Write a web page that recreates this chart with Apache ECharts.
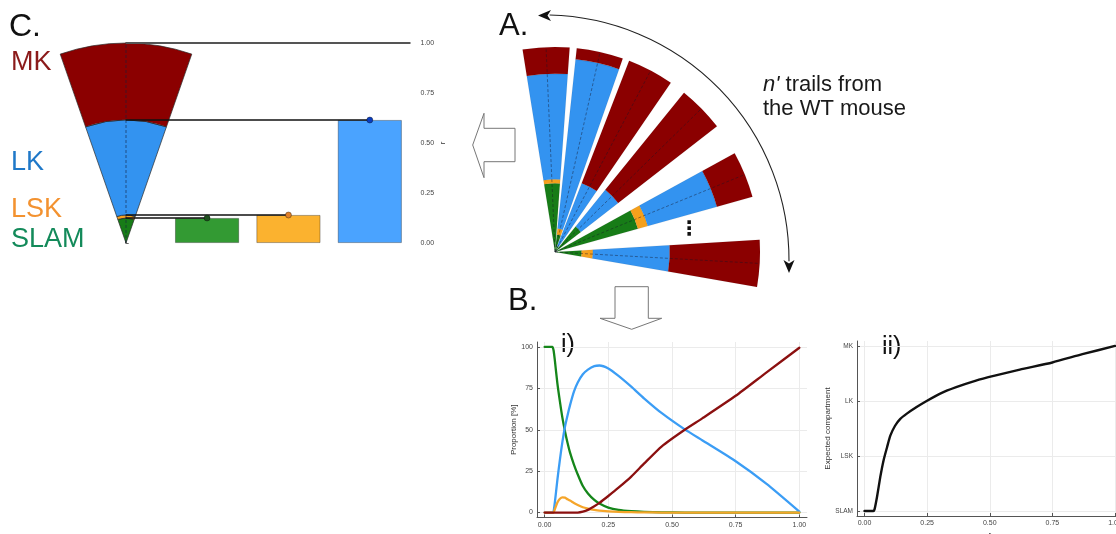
<!DOCTYPE html>
<html><head><meta charset="utf-8">
<script src="https://cdn.jsdelivr.net/npm/echarts@6/dist/echarts.min.js"></script>
<style>html,body{margin:0;padding:0;background:#fff}#c{width:1116px;height:534px}</style>
</head><body><div id="c"></div>
<script>
// ================= DATA =================
const COMPARTMENTS = ['SLAM', 'LSK', 'LK', 'MK'];
// Panel C: mean r reached by each compartment (upper boundary), MK reaches 1
const C_VALUES = [0.125, 0.14, 0.615];
const C_TOP = 1.0;
// Panel A: compartment boundaries of each trail (SLAM|LSK, LSK|LK, LK|MK), fraction of trail length
const TRAIL_1 = [0.335, 0.355, 0.87];
const TRAIL_2 = [0.085, 0.115, 0.945];
const TRAIL_3 = [0.03, 0.03, 0.36];
const TRAIL_4 = [0.16, 0.16, 0.39];
const TRAIL_5 = [0.42, 0.47, 0.82];
const TRAIL_6 = [0.13, 0.185, 0.56];
// Panel B i): proportions [%] along r
const R_I      = [0, 0.03, 0.035, 0.04, 0.05, 0.06, 0.07, 0.08, 0.09, 0.10, 0.115, 0.13, 0.15, 0.17, 0.195, 0.215, 0.25, 0.29, 0.34, 0.39, 0.46, 0.55, 0.62, 0.75, 0.87, 1.0];
const SLAM_PCT = [100, 100, 98, 92, 78, 67, 57, 49, 42, 36, 29, 23, 16, 11.5, 7.6, 5.5, 3, 1.6, 0.8, 0.4, 0.15, 0, 0, 0, 0, 0];
const LSK_PCT  = [0, 0, 0, 2, 6, 8.3, 9.2, 9, 8, 7.2, 5.8, 4.6, 3.2, 2.4, 1.6, 1.1, 0.7, 0.4, 0.2, 0.1, 0, 0, 0, 0, 0, 0];
const LK_PCT   = [0, 0, 0.5, 6, 19.7, 32, 43, 52, 58.8, 65, 73, 78.5, 83.5, 86.3, 88.4, 88.8, 87, 82.5, 76, 69, 60, 50.2, 43.5, 31, 17.5, 0.6];
const MK_PCT   = [0, 0, 0, 0, 0, 0, 0, 0, 0, 0, 0, 0, 0.5, 1.6, 3.8, 5.8, 10, 15, 21.7, 29.5, 40, 50, 57, 70.5, 84.5, 99.5];
const PCT_TICKS = [0, 25, 50, 75, 100];
const R_TICKS = [0, 0.25, 0.5, 0.75, 1.0];
// Panel B ii): expected compartment (0=SLAM ... 3=MK)
const R_II     = [0, 0.035, 0.04, 0.05, 0.063, 0.076, 0.09, 0.103, 0.122, 0.142, 0.169, 0.208, 0.248, 0.30, 0.366, 0.445, 0.52, 0.62, 0.75, 0.87, 1.0];
const EXPECTED = [0, 0, 0.03, 0.26, 0.62, 0.92, 1.16, 1.37, 1.55, 1.67, 1.77, 1.89, 2.0, 2.13, 2.25, 2.37, 2.46, 2.57, 2.70, 2.85, 3.0];
const LEVEL_TICKS = [0, 1, 2, 3];

// ================= LAYOUT / STYLE =================
const TRAILS = [TRAIL_1, TRAIL_2, TRAIL_3, TRAIL_4, TRAIL_5, TRAIL_6];
const TRAIL_ANGLES = [92.5, 77.3, 62.2, 44.4, 22.2, -3.2];
const TRAIL_HALF = 6.6;
const C_HALF = 19.2;
const WEDGE_COL = ['#177c17', '#f5a01c', '#3393f0', '#8b0000'];
const BAR_COL = ['#339a33', '#fbb22f', '#4aa3ff'];
const DOT_COL = ['#1f4f1f', '#e0802a', '#0a3dbf'];
const LINE_COL = ['#15861a', '#f5a52a', '#3b9df5', '#8b1010'];
const FONT = '"Liberation Sans", Arial, sans-serif';

function segs(bounds, angle) {
  const b = [0].concat(bounds, [1]);
  const out = [];
  for (let i = 0; i < 4; i++) if (b[i + 1] > b[i]) out.push([angle, b[i], b[i + 1], i]);
  return out;
}
const A_DATA = [];
TRAILS.forEach((t, k) => segs(t, TRAIL_ANGLES[k]).forEach(s => A_DATA.push(s)));
const C_DATA = segs(C_VALUES, 90);

function sectorRender(half, stroke, lw) {
  return function (params, api) {
    const a = api.value(0), r0 = api.value(1), r1 = api.value(2), ci = api.value(3);
    const cs = params.coordSys, cx = cs.cx, cy = cs.cy;
    const pO = api.coord([r1, a]), pI = api.coord([r0, a]);
    const rO = Math.hypot(pO[0] - cx, pO[1] - cy), rI = Math.hypot(pI[0] - cx, pI[1] - cy);
    const pS = api.coord([1, a + half]), pE = api.coord([1, a - half]);
    const sa = Math.atan2(pS[1] - cy, pS[0] - cx), ea = Math.atan2(pE[1] - cy, pE[0] - cx);
    return {
      type: 'sector',
      shape: { cx: cx, cy: cy, r0: rI, r: rO, startAngle: sa, endAngle: ea, clockwise: true },
      style: { fill: WEDGE_COL[ci], stroke: stroke, lineWidth: lw }
    };
  };
}
function axisLineRender(col, dash) {
  return function (params, api) {
    const a = api.value(0);
    const cs = params.coordSys;
    const p = api.coord([1, a]);
    return { type: 'line', shape: { x1: cs.cx, y1: cs.cy, x2: p[0], y2: p[1] },
      style: { stroke: col, lineWidth: 0.8, lineDash: dash } };
  };
}
function pairs(xs, ys) { return xs.map((x, i) => [x, ys[i]]); }

function gridSeries(xi, xs, ys) {
  return { type: 'line', xAxisIndex: xi, yAxisIndex: xi, data: [], z: 0, silent: true,
    markLine: { silent: true, z: 0, symbol: 'none', label: { show: false }, animation: false,
      lineStyle: { color: '#ebebeb', width: 1, type: 'solid' },
      data: xs.map(v => ({ xAxis: v })).concat(ys.map(v => ({ yAxis: v }))) } };
}
function curve(xi, xs, ys, col, w) {
  return { type: 'line', xAxisIndex: xi, yAxisIndex: xi, data: pairs(xs, ys), symbol: 'none', smooth: 0.2,
    lineStyle: { color: col, width: w, cap: 'round', join: 'round' }, z: 6, silent: true };
}

function bAxis(gi, extra, ticks) {
  return Object.assign({
    gridIndex: gi, type: 'value',
    nameLocation: 'middle', nameRotate: 0,
    nameTextStyle: { fontSize: 8, color: '#333', fontFamily: FONT },
    axisLine: { show: true, onZero: false, lineStyle: { color: '#555', width: 1 } },
    axisTick: { show: true, inside: true, length: 3, customValues: ticks, lineStyle: { color: '#555' } },
    splitLine: { show: false }
  }, extra);
}

const chart = echarts.init(document.getElementById('c'), null, { renderer: 'canvas' });
const connectors = C_VALUES.map((v, i) => ({
  type: 'line', xAxisIndex: 0, yAxisIndex: 0, z: 5,
  data: [{ value: [0, v], symbol: 'none' }, { value: [i + 1, v], symbol: 'circle', symbolSize: 6,
    itemStyle: { color: DOT_COL[i], borderColor: 'rgba(0,0,0,0.6)', borderWidth: 0.6 } }],
  lineStyle: { color: '#111', width: 1.3 }, showSymbol: true, silent: true
}));
const tickLbl = (ticks, fmt) => ({ customValues: ticks, fontSize: 7, color: '#444', margin: 4, fontFamily: FONT, formatter: fmt });

chart.setOption({
  animation: false,
  backgroundColor: '#fff',
  grid: [
    { left: 85, top: 43, width: 325.5, height: 200, outerBoundsMode: 'none' },
    { left: 537, top: 342, width: 270, height: 175.5, outerBoundsMode: 'none' },
    { left: 857, top: 341, width: 265.5, height: 175, outerBoundsMode: 'none' }
  ],
  xAxis: [
    { gridIndex: 0, type: 'value', min: -0.5, max: 3.5, show: false },
    bAxis(1, { min: -0.03, max: 1.03, name: 'r', nameGap: 15, axisLabel: tickLbl(R_TICKS, v => v.toFixed(2)) }, R_TICKS),
    bAxis(2, { min: -0.03, max: 1.03, name: 'r', nameGap: 15, axisLabel: tickLbl(R_TICKS, v => v.toFixed(2)) }, R_TICKS)
  ],
  yAxis: [
    { gridIndex: 0, type: 'value', min: 0, max: 1, interval: 0.25, position: 'right', offset: 6,
      name: 'r', nameLocation: 'middle', nameGap: 22, nameRotate: 90,
      nameTextStyle: { fontSize: 8, color: '#333', fontFamily: FONT },
      axisLine: { show: true, lineStyle: { color: '#666', width: 1 } },
      axisTick: { show: true, length: 3, lineStyle: { color: '#666' } },
      axisLabel: { fontSize: 7, color: '#444', margin: 4, fontFamily: FONT, formatter: v => v.toFixed(2) },
      splitLine: { show: false } },
    bAxis(1, { min: -3, max: 103, name: 'Proportion [%]', nameGap: 17, nameRotate: 90,
      axisLabel: tickLbl(PCT_TICKS, v => String(v)) }, PCT_TICKS),
    bAxis(2, { min: -0.09, max: 3.09, name: 'Expected compartment', nameGap: 21, nameRotate: 90,
      axisLabel: Object.assign(tickLbl(LEVEL_TICKS, v => COMPARTMENTS[Math.round(v)]), { fontSize: 6.5 }) }, LEVEL_TICKS)
  ],
  polar: [
    { center: [126, 243], radius: 200 },
    { center: [555, 252], radius: 205 }
  ],
  angleAxis: [
    { polarIndex: 0, type: 'value', min: -180, max: 180, startAngle: 180, clockwise: false, show: false },
    { polarIndex: 1, type: 'value', min: -180, max: 180, startAngle: 180, clockwise: false, show: false }
  ],
  radiusAxis: [
    { polarIndex: 0, type: 'value', min: 0, max: 1, show: false },
    { polarIndex: 1, type: 'value', min: 0, max: 1, show: false }
  ],
  series: [
    // Panel C wedge
    { type: 'custom', coordinateSystem: 'polar', polarIndex: 0, data: C_DATA,
      encode: { radius: 2, angle: 0 }, renderItem: sectorRender(C_HALF, '#2a2a2a', 0.7), silent: true },
    { type: 'custom', coordinateSystem: 'polar', polarIndex: 0, data: [[90]], z: 3,
      encode: { angle: 0 }, renderItem: axisLineRender('rgba(20,30,60,0.75)', [3, 2]), silent: true },
    // Panel A trails
    { type: 'custom', coordinateSystem: 'polar', polarIndex: 1, data: A_DATA,
      encode: { radius: 2, angle: 0 }, renderItem: sectorRender(TRAIL_HALF, 'rgba(0,0,0,0.12)', 0.5), silent: true },
    { type: 'custom', coordinateSystem: 'polar', polarIndex: 1, data: TRAIL_ANGLES.map(a => [a]), z: 3,
      encode: { angle: 0 }, renderItem: axisLineRender('rgba(20,20,40,0.55)', [3, 2]), silent: true },
    // Panel C bars
    { type: 'bar', xAxisIndex: 0, yAxisIndex: 0, barWidth: 64,
      data: C_VALUES.map((v, i) => ({ value: [i + 1, v], itemStyle: { color: BAR_COL[i], borderColor: 'rgba(0,0,0,0.4)', borderWidth: 0.8 } })),
      silent: true },
    // top line at r = 1
    { type: 'line', xAxisIndex: 0, yAxisIndex: 0, data: [[0, C_TOP], [3.5, C_TOP]], symbol: 'none',
      lineStyle: { color: '#555', width: 2 }, silent: true },
    ...connectors,
    // Panel B i)
    gridSeries(1, R_TICKS, PCT_TICKS),
    curve(1, R_I, SLAM_PCT, LINE_COL[0], 2.3),
    curve(1, R_I, LK_PCT, LINE_COL[2], 2.3),
    curve(1, R_I, LSK_PCT, LINE_COL[1], 2.3),
    curve(1, R_I, MK_PCT, LINE_COL[3], 2.3),
    // Panel B ii)
    gridSeries(2, R_TICKS, LEVEL_TICKS),
    curve(2, R_II, EXPECTED, '#111', 2.4)
  ],
  graphic: [
    { type: 'text', x: 9, y: 27, style: { text: 'C.', font: '32px ' + FONT, fill: '#111', verticalAlign: 'middle' } },
    { type: 'text', x: 499, y: 26, style: { text: 'A.', font: '31px ' + FONT, fill: '#111', verticalAlign: 'middle' } },
    { type: 'text', x: 508, y: 301, style: { text: 'B.', font: '31px ' + FONT, fill: '#111', verticalAlign: 'middle' } },
    { type: 'text', x: 11, y: 63, style: { text: 'MK', font: '27px ' + FONT, fill: '#8b1a1a', verticalAlign: 'middle' } },
    { type: 'text', x: 11, y: 163, style: { text: 'LK', font: '27px ' + FONT, fill: '#1f78c8', verticalAlign: 'middle' } },
    { type: 'text', x: 11, y: 210, style: { text: 'LSK', font: '27px ' + FONT, fill: '#f39230', verticalAlign: 'middle' } },
    { type: 'text', x: 11, y: 240, style: { text: 'SLAM', font: '27px ' + FONT, fill: '#138a5a', verticalAlign: 'middle' } },
    { type: 'text', x: 763, y: 73, style: { text: "{i|n'} trails from\nthe WT mouse", font: '22px ' + FONT, fill: '#1a1a1a',
        lineHeight: 24, verticalAlign: 'top',
        rich: { i: { fontStyle: 'italic', fontSize: 22, fontFamily: FONT, fill: '#1a1a1a', lineHeight: 24 } } } },
    { type: 'text', x: 561, y: 345, style: { text: 'i)', font: '25px ' + FONT, fill: '#111', verticalAlign: 'middle' } },
    { type: 'text', x: 882, y: 347, style: { text: 'ii)', font: '25px ' + FONT, fill: '#111', verticalAlign: 'middle' } },
    { type: 'text', x: 679, y: 230, style: { text: '⋮', font: 'bold 20px "DejaVu Sans"', fill: '#111', verticalAlign: 'middle' } },
    // hollow arrows
    { type: 'polygon', shape: { points: [[515, 128.3], [484, 128.3], [484, 113.3], [472.7, 145], [484, 177.7], [484, 161.7], [515, 161.7]] },
      style: { fill: '#fff', stroke: '#777', lineWidth: 1 } },
    { type: 'polygon', shape: { points: [[615, 286.7], [648.3, 286.7], [648.3, 318.3], [661.7, 318.3], [631.7, 329.3], [600, 318.3], [615, 318.3]] },
      style: { fill: '#fff', stroke: '#777', lineWidth: 1 } },
    // curved double arrow
    { type: 'arc', shape: { cx: 544, cy: 260, r: 245, startAngle: -1.548, endAngle: 0.005, clockwise: true },
      style: { stroke: '#222', lineWidth: 1.1, fill: null } },
    { type: 'polygon', shape: { points: [[538, 15.5], [551, 10], [547.5, 15.5], [551, 21]] }, style: { fill: '#111' } },
    { type: 'polygon', shape: { points: [[789, 273], [783.5, 260], [789, 263.5], [794.5, 260]] }, style: { fill: '#111' } }
  ]
});
</script></body></html>
